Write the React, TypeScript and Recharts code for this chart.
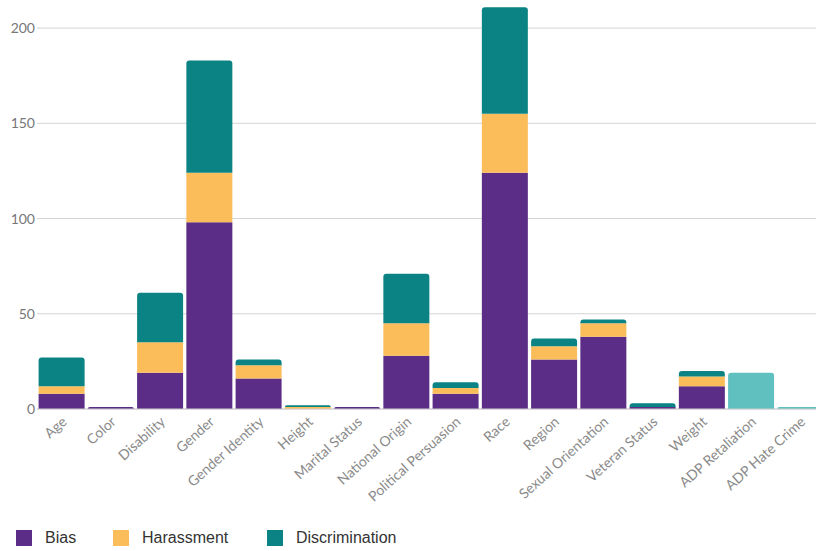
import { BarChart, Bar, XAxis, YAxis, CartesianGrid } from 'recharts'

const categories = [
  'Age', 'Color', 'Disability', 'Gender', 'Gender Identity', 'Height', 'Marital Status',
  'National Origin', 'Political Persuasion', 'Race', 'Region', 'Sexual Orientation',
  'Veteran Status', 'Weight', 'ADP Retaliation', 'ADP Hate Crime',
]
const bias = [8, 1, 19, 98, 16, 0, 1, 28, 8, 124, 26, 38, 1, 12, 0, 0]
const harassment = [4, 0, 16, 26, 7, 1, 0, 17, 3, 31, 7, 7, 0, 5, 0, 0]
const discrimination = [15, 0, 26, 59, 3, 1, 0, 26, 3, 56, 4, 2, 2, 3, 0, 0]
const adp = [0, 0, 0, 0, 0, 0, 0, 0, 0, 0, 0, 0, 0, 0, 19, 1]
const yTicks = [0, 50, 100, 150, 200]

const series = [
  { key: 'bias', name: 'Bias', color: '#5b2d86' },
  { key: 'harassment', name: 'Harassment', color: '#fbbc5a' },
  { key: 'discrimination', name: 'Discrimination', color: '#0b8384' },
  { key: 'adp', name: 'ADP', color: '#5fc0bf' },
]

const data = categories.map((name, i) => ({
  name,
  bias: bias[i],
  harassment: harassment[i],
  discrimination: discrimination[i],
  adp: adp[i],
}))

// which key sits on top of each stack, so only that one gets rounded corners
const topKey = (row: any) => {
  let top = ''
  series.forEach(s => { if (row[s.key] > 0) top = s.key })
  return top
}

const makeShape = (key: string, color: string) => (props: any) => {
  const { x, y, width, height, payload } = props
  if (!height || height <= 0) return <g />
  const r = topKey(payload) === key ? Math.min(3, height) : 0
  const d = r
    ? `M${x},${y + height} L${x},${y + r} Q${x},${y} ${x + r},${y} L${x + width - r},${y} Q${x + width},${y} ${x + width},${y + r} L${x + width},${y + height} Z`
    : `M${x},${y + height} L${x},${y} L${x + width},${y} L${x + width},${y + height} Z`
  return <path d={d} fill={color} />
}

const XTick = ({ x, y, payload }: any) => (
  <text
    x={x + 6}
    y={y + 6}
    textAnchor="end"
    fontSize={14}
    fill="#8a8a8a"
    fontFamily="Lato, 'Liberation Sans', sans-serif"
    transform={`rotate(-42, ${x + 6}, ${y + 6})`}
  >
    {payload.value}
  </text>
)

export default function App() {
  const legendItems = series.slice(0, 3)
  const legendX = [16, 113, 267]
  return (
    <div style={{ position: 'absolute', left: 0, top: 0, width: 816, height: 551, overflow: 'hidden', background: '#fff' }}>
      <div style={{ position: 'absolute', left: 0, top: -10 }}>
        <BarChart
          width={830}
          height={520}
          data={data}
          margin={{ top: 0, right: 5, left: 0, bottom: 0 }}
          barCategoryGap={1.6}
        >
          <CartesianGrid vertical={false} stroke="#d4d4d4" />
          <XAxis
            dataKey="name"
            interval={0}
            tick={<XTick />}
            tickLine={false}
            axisLine={{ stroke: '#cfcfcf' }}
            height={101}
          />
          <YAxis
            width={37}
            domain={[0, 220]}
            ticks={yTicks}
            tickLine={false}
            axisLine={false}
            tickSize={0}
            tickMargin={2}
            tick={{ fontSize: 14, fill: '#777', fontFamily: "Lato, 'Liberation Sans', sans-serif" }}
          />
          {series.map(s => (
            <Bar
              key={s.key}
              dataKey={s.key}
              name={s.name}
              stackId="a"
              fill={s.color}
              shape={makeShape(s.key, s.color)}
              isAnimationActive={false}
            />
          ))}
        </BarChart>
      </div>
      {legendItems.map((s, i) => (
        <div
          key={s.key}
          style={{ position: 'absolute', left: legendX[i], top: 529, display: 'flex', alignItems: 'center' }}
        >
          <div style={{ width: 16, height: 16, background: s.color }} />
          <span style={{ marginLeft: 13, fontSize: 16, color: '#333', fontFamily: "'Liberation Sans', Arial, sans-serif" }}>
            {s.name}
          </span>
        </div>
      ))}
    </div>
  )
}
